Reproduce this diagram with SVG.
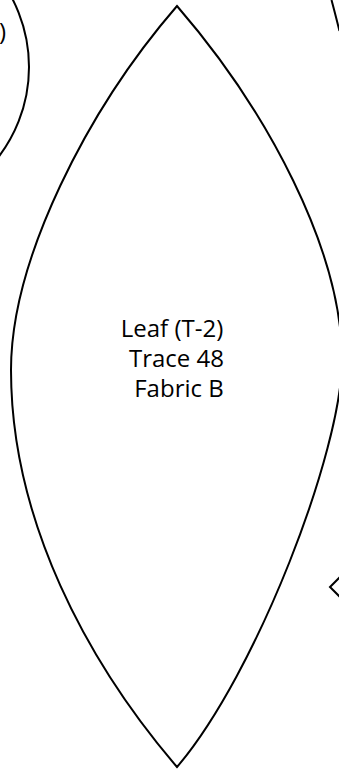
<svg xmlns="http://www.w3.org/2000/svg" width="339" height="771" viewBox="0 0 339 771">
<style>
.shape{fill:none;stroke:#000;stroke-width:2;stroke-linejoin:miter}
.lbl{font-family:"Open Sans","Noto Sans",sans-serif;font-size:24px;fill:#000}
</style>
<rect width="339" height="771" fill="#fff"/>
<g id="circle-piece">
<circle class="shape" cx="-119" cy="67" r="148"/>
<text class="lbl" x="6" y="40" text-anchor="end">)</text>
</g>
<g id="leaf-t2">
<path class="shape" d="M177,6 C267,110 342,250 342,360 C342,450 257,673 177,767 C87,662 11,520 11,370 C11,260 87,110 177,6 Z"/>
<text class="lbl" x="172" y="337" text-anchor="middle">Leaf (T-2)</text>
<text class="lbl" x="176.5" y="367" text-anchor="middle">Trace 48</text>
<text class="lbl" x="179" y="397" text-anchor="middle">Fabric B</text>
</g>
<g id="top-right-piece">
<path class="shape" d="M331.5,0 Q335,13 339.5,31"/>
</g>
<g id="bottom-right-piece">
<path class="shape" d="M341,576 L330,587 L341,598"/>
</g>
</svg>
